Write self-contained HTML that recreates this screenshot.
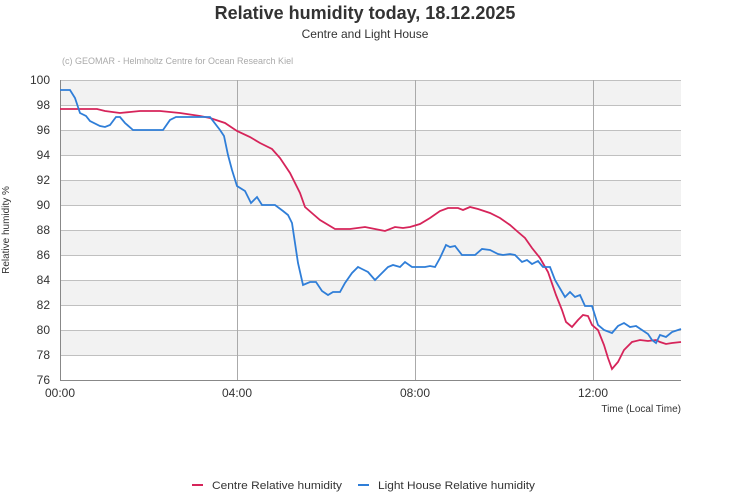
<!DOCTYPE html>
<html><head><meta charset="utf-8"><style>body{margin:0;background:#fff}svg{display:block;font-family:"Liberation Sans",sans-serif}</style></head>
<body>
<svg width="731" height="500" xmlns="http://www.w3.org/2000/svg">
<text x="365" y="19" text-anchor="middle" font-size="18" font-weight="bold" fill="#333">Relative humidity today, 18.12.2025</text>
<text x="365" y="38" text-anchor="middle" font-size="12" fill="#333">Centre and Light House</text>
<text x="62" y="64" font-size="9" fill="#aaa">(c) GEOMAR - Helmholtz Centre for Ocean Research Kiel</text>
<g fill="#f2f2f2">
<rect x="60" y="80" width="621" height="25"/><rect x="60" y="130" width="621" height="25"/><rect x="60" y="180" width="621" height="25"/><rect x="60" y="230" width="621" height="25"/><rect x="60" y="280" width="621" height="25"/><rect x="60" y="330" width="621" height="25"/>
</g>
<g stroke="#c0c0c0" stroke-width="1">
<line x1="60" x2="681" y1="80.5" y2="80.5"/><line x1="60" x2="681" y1="105.5" y2="105.5"/><line x1="60" x2="681" y1="130.5" y2="130.5"/><line x1="60" x2="681" y1="155.5" y2="155.5"/><line x1="60" x2="681" y1="180.5" y2="180.5"/><line x1="60" x2="681" y1="205.5" y2="205.5"/><line x1="60" x2="681" y1="230.5" y2="230.5"/><line x1="60" x2="681" y1="255.5" y2="255.5"/><line x1="60" x2="681" y1="280.5" y2="280.5"/><line x1="60" x2="681" y1="305.5" y2="305.5"/><line x1="60" x2="681" y1="330.5" y2="330.5"/><line x1="60" x2="681" y1="355.5" y2="355.5"/>
<line x1="237.5" x2="237.5" y1="80" y2="380" stroke="#aaa"/><line x1="415.5" x2="415.5" y1="80" y2="380" stroke="#aaa"/><line x1="593.5" x2="593.5" y1="80" y2="380" stroke="#aaa"/>
</g>
<line x1="60" x2="681" y1="380.5" y2="380.5" stroke="#888"/>
<line x1="60.5" x2="60.5" y1="80" y2="380" stroke="#888"/>
<g font-size="12" fill="#333" text-anchor="end">
<text x="50" y="84">100</text><text x="50" y="109">98</text><text x="50" y="134">96</text><text x="50" y="159">94</text><text x="50" y="184">92</text><text x="50" y="209">90</text><text x="50" y="234">88</text><text x="50" y="259">86</text><text x="50" y="284">84</text><text x="50" y="309">82</text><text x="50" y="334">80</text><text x="50" y="359">78</text><text x="50" y="384">76</text>
</g>
<g font-size="12" fill="#333" text-anchor="middle">
<text x="60" y="397">00:00</text><text x="237" y="397">04:00</text><text x="415" y="397">08:00</text><text x="593" y="397">12:00</text>
</g>
<text x="681" y="412" text-anchor="end" font-size="10" fill="#333">Time (Local Time)</text>
<text transform="translate(9,230) rotate(-90)" text-anchor="middle" font-size="10" fill="#333">Relative humidity %</text>
<polyline fill="none" stroke="#d6245a" stroke-width="1.8" points="60,109 97,109 105,111 120,113 130,112 140,111 160,111 180,113 200,116 210,118 225,123 237,131 250,137 260,143 272,149 280,158 290,173 300,193 305,207 313,214 320,220 335,229 350,229 365,227 380,230 385,231 395,227 403,228 410,227 420,224 430,218 440,211 448,208 458,208 463,210 470,207 478,209 490,213 500,218 510,225 518,232 525,238 532,248 540,258 548,272 556,295 562,310 566,322 572,327 578,320 583,315 588,316 592,325 598,330 604,345 608,358 612,369 618,362 624,350 632,342 640,340 648,341 656,340 660,342 666,344 672,343 681,342"/>
<polyline fill="none" stroke="#2f7ed8" stroke-width="1.8" points="60,90 70,90 75,98 80,113 86,116 90,121 100,126 105,127 110,125 116,117 120,117 125,123 133,130 163,130 170,120 176,117 210,117 220,130 224,136 228,155 232,170 237,186 245,191 251,203 257,197 262,205 275,205 283,211 288,215 292,223 298,263 303,285 310,282 316,282 322,291 328,295 333,292 340,292 345,283 352,273 358,267 362,269 368,272 375,280 380,275 388,267 393,265 400,267 405,262 412,267 425,267 430,266 435,267 440,258 446,245 450,247 455,246 462,255 475,255 482,249 490,250 498,254 503,255 510,254 515,255 522,262 527,260 532,264 538,261 543,267 550,267 555,280 565,297 570,292 575,297 580,295 585,306 592,306 598,325 604,330 612,333 618,326 624,323 630,327 636,326 642,330 648,334 652,340 656,343 660,335 666,337 672,332 681,329"/>
<line x1="192" x2="203" y1="485" y2="485" stroke="#d6245a" stroke-width="2"/>
<text x="212" y="489" font-size="11" fill="#333" textLength="130" lengthAdjust="spacingAndGlyphs">Centre Relative humidity</text>
<line x1="358" x2="369" y1="485" y2="485" stroke="#2f7ed8" stroke-width="2"/>
<text x="378" y="489" font-size="11" fill="#333" textLength="157" lengthAdjust="spacingAndGlyphs">Light House Relative humidity</text>
</svg>
</body></html>
